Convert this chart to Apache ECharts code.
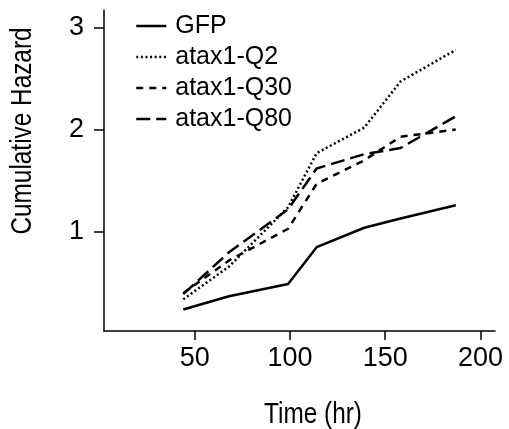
<!DOCTYPE html>
<html><head><meta charset="utf-8">
<script src="https://cdn.jsdelivr.net/npm/echarts@6/dist/echarts.min.js"></script>
<style>html,body{margin:0;padding:0;background:#fff}#c{width:509px;height:429px}</style>
</head><body><div id="c"></div>
<script>
// Data
const times = [44, 68, 99, 114, 139, 158, 187];
const seriesNames = ['GFP', 'atax1-Q2', 'atax1-Q30', 'atax1-Q80'];
const gfp = [0.24, 0.37, 0.49, 0.85, 1.04, 1.13, 1.26];
const q2  = [0.34, 0.66, 1.24, 1.77, 2.02, 2.47, 2.78];
const q30 = [0.40, 0.72, 1.03, 1.47, 1.70, 1.93, 2.00];
const q80 = [0.39, 0.80, 1.22, 1.62, 1.76, 1.82, 2.13];
const xTicks = [50, 100, 150, 200];
const yTicks = [1, 2, 3];
const xTitle = 'Time (hr)';
const yTitle = 'Cumulative Hazard';

const values = [gfp, q2, q30, q80];
const dashTypes = ['solid', [2, 2.6], [7, 6], [14, 6]];
const regular = '"Liberation Sans", Arial, sans-serif';

const chart = echarts.init(document.getElementById('c'), null, {renderer: 'canvas'});
chart.setOption({
  animation: false,
  backgroundColor: '#fff',
  grid: {left: 104, top: 10, width: 391, height: 321, containLabel: false},
  xAxis: {
    type: 'value', min: 2.4, max: 207.6,
    axisLine: {show: true, onZero: false, lineStyle: {color: '#000', width: 1.5}},
    axisTick: {show: true, inside: false, length: 9, customValues: xTicks, lineStyle: {color: '#000', width: 1.5}},
    axisLabel: {customValues: xTicks, color: '#000', fontFamily: regular, fontSize: 27, margin: 14},
    splitLine: {show: false}
  },
  yAxis: {
    type: 'value', min: 0.03, max: 3.17,
    axisLine: {show: true, onZero: false, lineStyle: {color: '#000', width: 1.5}},
    axisTick: {show: true, inside: false, length: 10, customValues: yTicks, lineStyle: {color: '#000', width: 1.5}},
    axisLabel: {customValues: yTicks, color: '#000', fontFamily: regular, fontSize: 27, margin: 20},
    splitLine: {show: false}
  },
  legend: {
    orient: 'vertical', left: 130, top: 8,
    itemWidth: 30, itemHeight: 14, itemGap: 5,
    itemStyle: {opacity: 0},
    lineStyle: {width: 2.5},
    textStyle: {color: '#000', fontFamily: regular, fontSize: 25, lineHeight: 26, padding: [0, 0, 0, 4]},
    data: seriesNames
  },
  graphic: [
    {type: 'text', x: 23, y: 131, rotation: Math.PI / 2, scaleX: 0.84,
     style: {text: yTitle, fill: '#000', font: '29px ' + regular, align: 'center', verticalAlign: 'middle'}},
    {type: 'text', x: 313, y: 415, scaleX: 0.84,
     style: {text: xTitle, fill: '#000', font: '29px ' + regular, align: 'center', verticalAlign: 'middle'}}
  ],
  series: seriesNames.map((n, i) => ({
    name: n, type: 'line', symbol: 'none', silent: true,
    data: times.map((t, j) => [t, values[i][j]]),
    lineStyle: {color: '#000', width: 2.5, type: dashTypes[i], cap: 'butt'},
    itemStyle: {color: '#000'}
  }))
});
</script></body></html>
